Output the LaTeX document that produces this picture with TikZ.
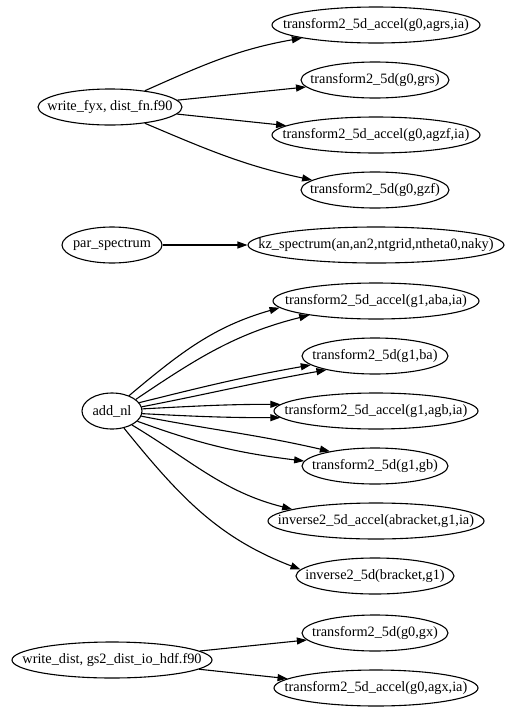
\documentclass[tikz,border=0pt]{standalone}
\usepackage{fontspec}
\setmainfont{Liberation Serif}
\usetikzlibrary{shapes.geometric,arrows.meta}

% label that does not widen the ellipse
\newcommand{\lbl}[1]{\makebox[0pt]{#1}}

\begin{document}
\begin{tikzpicture}[x=1pt,y=1pt,
  func/.style={ellipse, draw, line width=1.1pt, inner sep=0pt, minimum height=36pt,
    font=\fontsize{14.3pt}{17pt}\selectfont},
  calls/.style={line width=1.1pt, -{Triangle[length=10pt,width=7pt]}}]

% ----- Page -----
\useasboundingbox (0,0) rectangle (525,-718);

% ----- write_fyx -----
\node[func, minimum width=144pt] (W)  at (110,-107) {\lbl{write\_fyx, dist\_fn.f90}};
\node[func, minimum width=208pt] (T1) at (376,-25)  {\lbl{transform2\_5d\_accel(g0,agrs,ia)}};
\node[func, minimum width=148pt] (T2) at (375,-80)  {\lbl{transform2\_5d(g0,grs)}};
\node[func, minimum width=208pt] (T3) at (376,-135) {\lbl{transform2\_5d\_accel(g0,agzf,ia)}};
\node[func, minimum width=148pt] (T4) at (375,-190) {\lbl{transform2\_5d(g0,gzf)}};

\draw[calls] (W.25) to[out=24,in=190] (T1.190);
\draw[calls] (W) -- (T2);
\draw[calls] (W) -- (T3);
\draw[calls] (W.-25) to[out=-23,in=168] (T4.171);

% ----- par_spectrum -----
\node[func, minimum width=100pt] (P) at (112,-245) {\lbl{par\_spectrum}};
\node[func, minimum width=256pt] (K) at (376,-245) {\lbl{kz\_spectrum(an,an2,ntgrid,ntheta0,naky)}};

\draw[calls] (P) -- (K);

% ----- add_nl -----
\node[func, minimum width=60pt]  (A)   at (112,-411) {\lbl{add\_nl}};
\node[func, minimum width=206pt] (T5)  at (376,-301) {\lbl{transform2\_5d\_accel(g1,aba,ia)}};
\node[func, minimum width=146pt] (T6)  at (375,-356) {\lbl{transform2\_5d(g1,ba)}};
\node[func, minimum width=204pt] (T7)  at (376,-411) {\lbl{transform2\_5d\_accel(g1,agb,ia)}};
\node[func, minimum width=146pt] (T8)  at (375,-466) {\lbl{transform2\_5d(g1,gb)}};
\node[func, minimum width=216pt] (T9)  at (376,-521) {\lbl{inverse2\_5d\_accel(abracket,g1,ia)}};
\node[func, minimum width=158pt] (T10) at (375,-576) {\lbl{inverse2\_5d(bracket,g1)}};

% two calls each
\draw[calls] (A.42)  to[out=40,in=196]  (T5.184);
\draw[calls] (A.26)  to[out=34,in=194]  (T5.192);
\draw[calls] (A.17)  to[out=14,in=190]  (T6.188);
\draw[calls] (A.8)   to[out=11,in=190]  (T6.196);
\draw[calls] (A.4)   to[out=3,in=180]   (T7.176);
\draw[calls] (A.-5)  to[out=-3,in=180]  (T7.184);
\draw[calls] (A.-10) to[out=-11,in=167] (T8.162);
\draw[calls] (A.-22) to[out=-20,in=173] (T8.176);
% one call each
\draw[calls] (A.-35) to[out=-31,in=166] (T9.172);
\draw[calls] (A.-55) to[out=-51,in=159] (T10.175);

% ----- write_dist -----
\node[func, minimum width=200pt] (WD) at (112,-660) {\lbl{write\_dist, gs2\_dist\_io\_hdf.f90}};
\node[func, minimum width=146pt] (X1) at (375,-633) {\lbl{transform2\_5d(g0,gx)}};
\node[func, minimum width=204pt] (X2) at (376,-688) {\lbl{transform2\_5d\_accel(g0,agx,ia)}};

\draw[calls] (WD) -- (X1);
\draw[calls] (WD) -- (X2);

\end{tikzpicture}
\end{document}
